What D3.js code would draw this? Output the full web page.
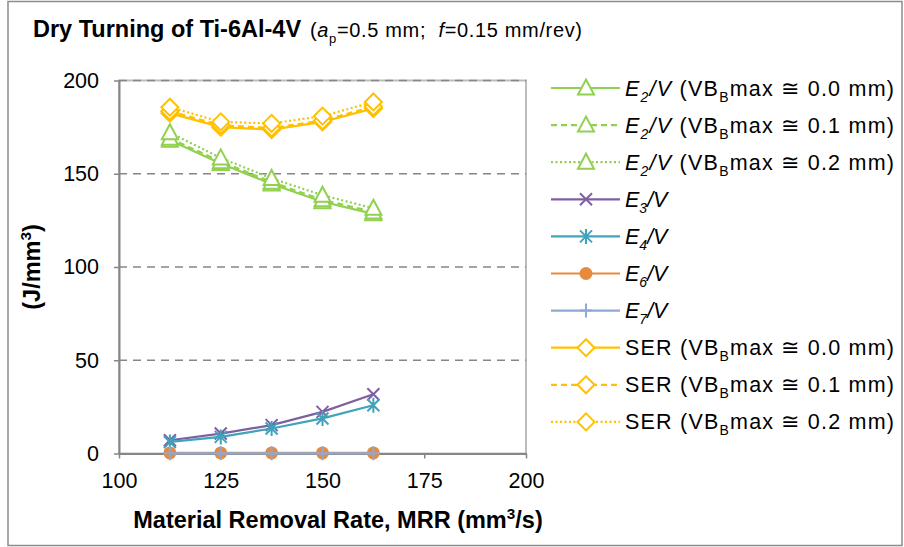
<!DOCTYPE html>
<html>
<head>
<meta charset="utf-8">
<script src="https://cdn.jsdelivr.net/npm/d3@7"></script>
<style>
  body { margin: 0; background: #fff; }
  svg { font-family: "Liberation Sans", Arial, sans-serif; }
</style>
</head>
<body>
<svg id="chart" width="904" height="547"></svg>
<script>
// MRR values (mm3/s) along x
const mrr = [112.5, 125, 137.5, 150, 162.5];

// specific energies (J/mm3)
const e2Wear00 = [168, 155.5, 144.5, 135, 128.5];
const e2Wear01 = [169, 156.5, 145.5, 136, 129.5];
const e2Wear02 = [172, 158.5, 147.5, 138.5, 131.5];
const e3 = [7.1, 10.7, 15.2, 22.3, 31.8];
const e4 = [6.2, 8.9, 13.4, 18.8, 25.9];
const e6 = [0.3, 0.3, 0.3, 0.3, 0.3];
const e7 = [0.1, 0.1, 0.1, 0.1, 0.1];
const serWear00 = [182.5, 175, 173.7, 177.8, 185];
const serWear01 = [183.5, 176, 174.5, 178.5, 186];
const serWear02 = [185.7, 177.8, 177, 180.9, 188.5];

const xTicks = [100, 125, 150, 175, 200];
const yTicks = [0, 50, 100, 150, 200];

const green = "#92D050", purple = "#7F5FA0", teal = "#3FA3BC",
      orange = "#E88A3C", slate = "#8EA9D3", gold = "#FFC000";

const wearLabel = (sym, n, w) => [[sym, "i"], [n, "isub"], ["/V", "i"], [" (VB", ""], ["B", "sub"], ["max \u2245 " + w + " mm)", ""]];
const serLabel = w => [["SER (VB", ""], ["B", "sub"], ["max \u2245 " + w + " mm)", ""]];

const series = [
  { label: wearLabel("E", "2", "0.0"), values: e2Wear00, color: green, dash: null, marker: "triangle", fit: true },
  { label: wearLabel("E", "2", "0.1"), values: e2Wear01, color: green, dash: "6,4", marker: "triangle", fit: true },
  { label: wearLabel("E", "2", "0.2"), values: e2Wear02, color: green, dash: "2,2.5", marker: "triangle", fit: true },
  { label: [["E", "i"], ["3", "isub"], ["/V", "i"]], values: e3, color: purple, dash: null, marker: "x" },
  { label: [["E", "i"], ["4", "isub"], ["/V", "i"]], values: e4, color: teal, dash: null, marker: "star" },
  { label: [["E", "i"], ["6", "isub"], ["/V", "i"]], values: e6, color: orange, dash: null, marker: "circle" },
  { label: [["E", "i"], ["7", "isub"], ["/V", "i"]], values: e7, color: slate, dash: null, marker: "plus" },
  { label: serLabel("0.0"), values: serWear00, color: gold, dash: null, marker: "diamond", fit: true },
  { label: serLabel("0.1"), values: serWear01, color: gold, dash: "6,4", marker: "diamond", fit: true },
  { label: serLabel("0.2"), values: serWear02, color: gold, dash: "2,2.5", marker: "diamond", fit: true },
];

const svg = d3.select("#chart");
const plot = { left: 119, right: 526, top: 80.5, bottom: 453.5 };
const axisGrey = "#868686";

const x = d3.scaleLinear().domain([100, 200]).range([plot.left, plot.right]);
const y = d3.scaleLinear().domain([0, 200]).range([plot.bottom, plot.top]);

// outer chart border
svg.append("rect")
  .attr("x", 8).attr("y", 1.5).attr("width", 894).attr("height", 544)
  .attr("fill", "#fff").attr("stroke", "#8C8C8C").attr("stroke-width", 1.5);

// plot frame + gridlines
svg.append("rect")
  .attr("x", plot.left).attr("y", plot.top)
  .attr("width", plot.right - plot.left).attr("height", plot.bottom - plot.top)
  .attr("fill", "none").attr("stroke", "#BDBDBD").attr("stroke-width", 2);

svg.append("g").selectAll("line")
  .data(yTicks.filter(d => d > 0))
  .join("line")
  .attr("x1", plot.left).attr("x2", plot.right)
  .attr("y1", d => y(d)).attr("y2", d => y(d))
  .attr("stroke", axisGrey).attr("stroke-width", 1.6)
  .attr("stroke-dasharray", "8,6");

function styleAxis(g) {
  g.select(".domain").attr("stroke", axisGrey).attr("stroke-width", 2);
  g.selectAll(".tick line").attr("stroke", axisGrey).attr("stroke-width", 1.5);
  g.selectAll(".tick text").attr("font-size", 21.5).attr("fill", "#000")
    .attr("font-family", "Liberation Sans, Arial, sans-serif");
}

svg.append("g")
  .attr("transform", `translate(0,${plot.bottom})`)
  .call(d3.axisBottom(x).tickValues(xTicks).tickSize(5).tickSizeOuter(0).tickPadding(14))
  .call(styleAxis);

svg.append("g")
  .attr("transform", `translate(${plot.left},0)`)
  .call(d3.axisLeft(y).tickValues(yTicks).tickSize(5).tickSizeOuter(0).tickPadding(15))
  .call(styleAxis);

// markers
function drawMarker(g, type, color) {
  if (type === "triangle") {
    g.append("path").attr("d", "M0,-8.5L8,6.5L-8,6.5Z")
      .attr("fill", "#fff").attr("stroke", color).attr("stroke-width", 2);
  } else if (type === "diamond") {
    g.append("path").attr("d", "M0,-8.5L8.5,0L0,8.5L-8.5,0Z")
      .attr("fill", "#fff").attr("stroke", color).attr("stroke-width", 2);
  } else if (type === "circle") {
    g.append("circle").attr("r", 6.5).attr("fill", color);
  } else {
    let d = "";
    if (type === "x" || type === "star") d += "M-6,-6L6,6M-6,6L6,-6";
    if (type === "star") d += "M0,-7.5L0,7.5";
    if (type === "plus") d += "M-6,0L6,0M0,-7L0,7";
    g.append("path").attr("d", d).attr("fill", "none")
      .attr("stroke", color).attr("stroke-width", 2);
  }
}

const line = d3.line().x(d => x(d[0])).y(d => y(d[1]));

series.forEach(s => {
  const pts = mrr.map((m, i) => [m, s.values[i]]);
  const g = svg.append("g");
  g.append("path").datum(pts)
    .attr("d", line).attr("fill", "none")
    .attr("stroke", s.color).attr("stroke-width", 2.2)
    .attr("stroke-dasharray", s.dash);
  pts.forEach(p => {
    drawMarker(g.append("g").attr("transform", `translate(${x(p[0])},${y(p[1])})`), s.marker, s.color);
  });
});

// rich text helper: parts = [text, kind], kind may contain i / sub / sup
function writeParts(sel, parts, size) {
  let shift = 0;
  parts.forEach(([str, kind]) => {
    const t = sel.append("tspan").text(str);
    let target = 0;
    if (kind.includes("sub")) target = size * 0.28;
    if (kind.includes("sup")) target = -size * 0.38;
    if (target - shift !== 0) t.attr("dy", target - shift);
    shift = target;
    if (kind.includes("sub") || kind.includes("sup")) t.attr("font-size", size * 0.65);
    if (kind.startsWith("i")) t.attr("font-style", "italic");
  });
}

// legend
const legend = svg.append("g");
series.forEach((s, i) => {
  const cy = 88 + i * 37.1;
  const row = legend.append("g").attr("transform", `translate(0,${cy})`);
  row.append("line").attr("x1", 551).attr("x2", 620)
    .attr("stroke", s.color).attr("stroke-width", 2.2)
    .attr("stroke-dasharray", s.dash);
  drawMarker(row.append("g").attr("transform", "translate(586,0)"), s.marker, s.color);
  const t = row.append("text").attr("x", 625).attr("y", 7.5)
    .attr("font-size", 21.5).attr("fill", "#000");
  writeParts(t, s.label, 21.5);
  if (s.fit) t.attr("textLength", 269).attr("lengthAdjust", "spacing");
});

// title
const title = svg.append("text").attr("x", 33).attr("y", 37).attr("fill", "#000");
title.append("tspan").attr("font-weight", "bold").attr("font-size", 23.5).text("Dry Turning of Ti-6Al-4V");
const sub = svg.append("text").attr("x", 310).attr("y", 37).attr("fill", "#000")
  .style("white-space", "pre")
  .attr("font-size", 20).attr("textLength", 272).attr("lengthAdjust", "spacing");
writeParts(sub, [["(", ""], ["a", "i"], ["p", "sub"], ["=0.5 mm;  ", ""], ["f", "i"], ["=0.15 mm/rev)", ""]], 20);

// axis titles
const xTitle = svg.append("text").attr("x", 338).attr("y", 528)
  .attr("text-anchor", "middle").attr("font-weight", "bold").attr("font-size", 23.5);
writeParts(xTitle, [["Material Removal Rate, MRR (mm", ""], ["3", "sup"], ["/s)", ""]], 23.5);

const yTitle = svg.append("text")
  .attr("transform", "translate(40,267) rotate(-90)")
  .attr("text-anchor", "middle").attr("font-weight", "bold").attr("font-size", 23.5);
writeParts(yTitle, [["(J/mm", ""], ["3", "sup"], [")", ""]], 23.5);
</script>
</body>
</html>
